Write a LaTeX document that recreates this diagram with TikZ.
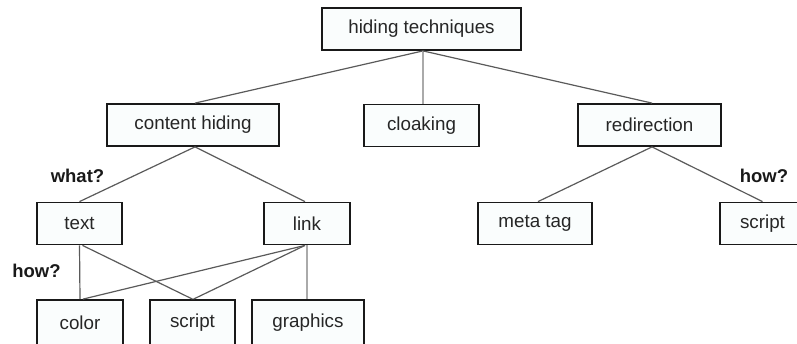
\documentclass[tikz,border=0pt]{standalone}
\usepackage{fontspec}
\setmainfont{Liberation Sans}

\definecolor{boxfill}{RGB}{250,253,253}
\definecolor{linkgray}{RGB}{90,90,90}
\definecolor{lightlink}{RGB}{170,170,170}

\tikzstyle{every path} = [line width=1.2pt,linkgray]
\tikzstyle{hbox} = [draw=black!90, fill=boxfill, line width=1.8pt, inner sep=0pt,
    minimum height=42pt, text=black!85, font=\fontsize{18.8}{20}\selectfont]
\tikzstyle{ask} = [font=\fontsize{18.5}{20}\selectfont\bfseries, text=black!90, inner sep=0pt]
\tikzstyle{thickline} = [line width=2.8pt, lightlink]

\begin{document}
\begin{tikzpicture}[x=1pt,y=-1pt]
    \useasboundingbox (0,0) rectangle (797,343);

    % Level 0
    \node[hbox, minimum width=199pt] (hiding) at (421.5,29) {hiding techniques};

    % Level 1
    \node[hbox, minimum width=172pt] (content) at (193,125) {content hiding};
    \node[hbox, minimum width=115pt] (cloaking) at (421.5,125.5) {cloaking};
    \node[hbox, minimum width=143pt] (redirect) at (649.5,125) {redirection};

    % Level 2
    \node[hbox, minimum width=85pt] (text) at (79.5,223.5) {text};
    \node[hbox, minimum width=86pt] (link) at (307,223.5) {link};
    \node[hbox, minimum width=114pt] (metatag) at (535,223.5) {meta tag};
    \node[hbox, minimum width=85pt] (script2) at (762.5,223.5) {script};

    % Level 3
    \node[hbox, minimum width=86pt, minimum height=46pt] (color) at (80,323) {color};
    \node[hbox, minimum width=85pt, minimum height=46pt] (script1) at (192.5,323) {script};
    \node[hbox, minimum width=112pt, minimum height=46pt] (graphics) at (308,323) {graphics};

    % Questions
    \node[ask] (what) at (77.5,176) {what?};
    \node[ask] (how1) at (36.5,271) {how?};
    \node[ask] (how2) at (764,176) {how?};

    % Connectors
    \draw ([xshift=1.5pt]hiding.south) -- ([xshift=2pt]content.north);
    \draw[thickline] ([xshift=1.5pt]hiding.south) -- ([xshift=1.5pt]cloaking.north);
    \draw ([xshift=1.5pt]hiding.south) -- ([xshift=2.5pt]redirect.north);

    \draw ([xshift=2pt]content.south) -- (text.north);
    \draw ([xshift=2pt]content.south) -- ([xshift=-2pt]link.north);
    \draw ([xshift=2.5pt]redirect.south) -- ([xshift=3pt]metatag.north);
    \draw ([xshift=2.5pt]redirect.south) -- (script2.north);

    \draw (text.south) -- (color.north);
    \draw ([xshift=3pt]text.south) -- (script1.north);
    \draw ([xshift=-2pt]link.south) -- ([xshift=3pt]color.north);
    \draw ([xshift=-2pt]link.south) -- ([xshift=1pt]script1.north);
    \draw[thickline] (link.south) -- ([xshift=-1pt]graphics.north);
\end{tikzpicture}
\end{document}
